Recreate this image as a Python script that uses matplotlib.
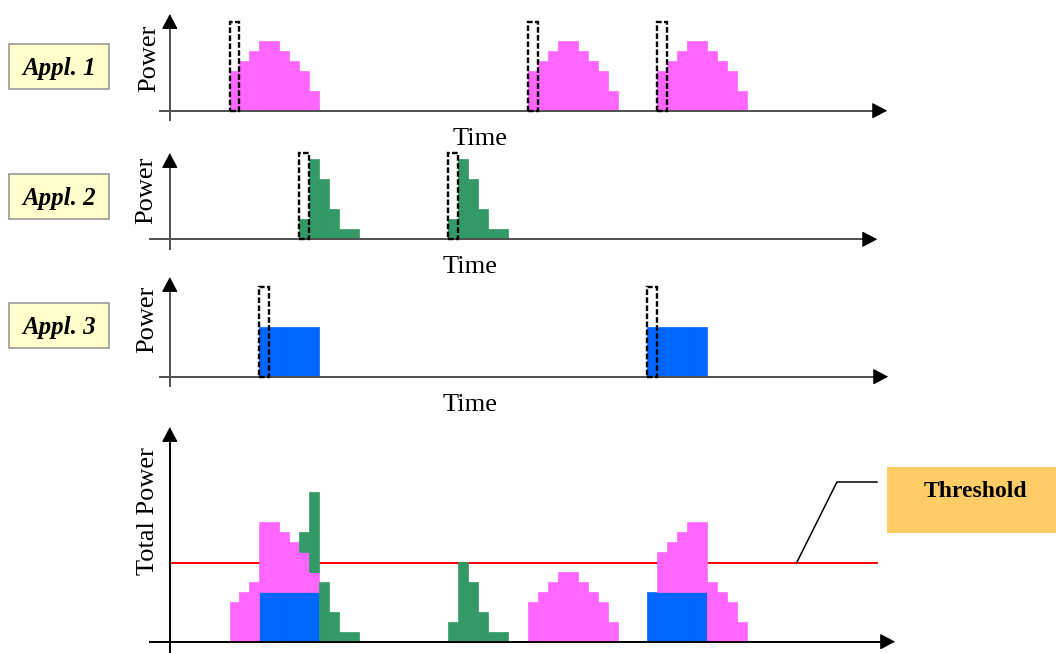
import matplotlib
matplotlib.use("Agg")
import matplotlib.pyplot as plt
from matplotlib.patches import Rectangle
import numpy as np

# ---------------- data (time in slots, power in units) ----------------
appl1_profile = [4, 5, 6, 7, 7, 6, 5, 4, 2]
appl1_starts = [6, 36, 49]
appl2_profile = [2, 8, 6, 3, 1, 1]
appl2_starts = [13, 28]
appl3_profile = [5, 5, 5, 5, 5, 5]
appl3_starts = [9, 48]
threshold = 7.9
app_labels = ["Appl. 1", "Appl. 2", "Appl. 3"]
n_slots = 72

PINK = "#FF66FF"
GREEN = "#339966"
BLUE = "#0066FF"
AXC = "#505050"
SERIF = ["Liberation Serif", "DejaVu Serif"]

def series(profile, starts):
    s = np.zeros(n_slots)
    for st in starts:
        s[st:st + len(profile)] = profile
    return s

p1 = series(appl1_profile, appl1_starts)
p2 = series(appl2_profile, appl2_starts)
p3 = series(appl3_profile, appl3_starts)
t = np.arange(n_slots)

# ---------------- figure ----------------
FW, FH = 1056, 653
fig = plt.figure(figsize=(FW / 100, FH / 100), dpi=100)

X0, W, UY = 169.8, 9.95, 10.0

def panel(top, bottom, base):
    ax = fig.add_axes([0, 1 - bottom / FH, 1, (bottom - top) / FH])
    ax.set_xlim(-X0 / W, (FW - X0) / W)
    ax.set_ylim((base - bottom) / UY, (base - top) / UY)
    ax.axis("off")
    ax.patch.set_visible(False)
    return ax

def axes_arrows(ax, xstart, xtip, ybot, ytip, col=AXC):
    hx, hy = 1.3, 1.3
    ax.plot([xstart, xtip - hx], [0, 0], color=col, lw=1.4, solid_capstyle="butt", clip_on=False, zorder=3)
    ax.plot([0, 0], [ybot, ytip - hy], color=col, lw=1.4, solid_capstyle="butt", clip_on=False, zorder=3)
    style = "-|>,head_length=0.95,head_width=0.5"
    ax.annotate("", xy=(xtip, 0), xytext=(xtip - hx, 0),
                arrowprops=dict(arrowstyle=style, color="black", lw=0.8, shrinkA=0, shrinkB=0, mutation_scale=10),
                annotation_clip=False)
    ax.annotate("", xy=(0, ytip), xytext=(0, ytip - hy),
                arrowprops=dict(arrowstyle=style, color="black", lw=0.8, shrinkA=0, shrinkB=0, mutation_scale=10),
                annotation_clip=False)

def bars(ax, vals, color, bottom=None):
    m = vals > 0
    b = 0 if bottom is None else bottom[m]
    ax.bar(t[m], vals[m], width=1, align="edge", bottom=b, color=color,
           edgecolor=color, linewidth=0.5, zorder=2)

def markers(ax, starts, h):
    for st in starts:
        ax.add_patch(Rectangle((st, 0), 1, h, fill=False, ec="black", lw=1.7,
                               ls=(0, (2.4, 1.0)), zorder=4, clip_on=False))

# Panel 1
ax1 = panel(0, 130, 110.7)
bars(ax1, p1, PINK)
markers(ax1, appl1_starts, 8.87)
axes_arrows(ax1, -1.09, 72.1, -1.03, 9.67)

# Panel 2
ax2 = panel(140, 260, 239.3)
bars(ax2, p2, GREEN)
markers(ax2, appl2_starts, 8.63)
axes_arrows(ax2, -2.09, 71.1, -1.07, 8.63)

# Panel 3
ax3 = panel(270, 395, 376.7)
bars(ax3, p3, BLUE)
markers(ax3, appl3_starts, 8.97)
axes_arrows(ax3, -1.09, 72.2, -1.03, 9.97)

# Panel 4 (total)
ax4 = panel(420, 653, 641.7)
ax4.plot([0, 71.1], [threshold, threshold], color="#FF0000", lw=1.4, zorder=1)
bars(ax4, p3, BLUE)
bars(ax4, p1, PINK, bottom=p3)
bars(ax4, p2, GREEN, bottom=p3 + p1)
axes_arrows(ax4, -2.09, 72.9, -1.3, 21.47, col="black")
ax4.plot([63.0, 67.05, 71.07], [threshold, 15.97, 15.97], color="black", lw=1.1, zorder=1)

# ---------------- overlay (pixel coords) for labels ----------------
ov = fig.add_axes([0, 0, 1, 1])
ov.set_xlim(0, FW)
ov.set_ylim(FH, 0)
ov.axis("off")
ov.patch.set_visible(False)

box_tops = [44, 174, 303]
for lab, top in zip(app_labels, box_tops):
    ov.add_patch(Rectangle((9, top), 100, 45, fc="#FFFFCC", ec="#9A9A9A", lw=1.2))
    ov.text(59, top + 31, lab, ha="center", va="baseline", family=SERIF,
            fontweight="bold", fontstyle="italic", fontsize=18)

for (x, y) in [(149, 58.5), (146, 190), (147, 319)]:
    ov.text(x, y, "Power", rotation=90, ha="center", va="center", family=SERIF, fontsize=19)
ov.text(148, 511, "Total Power", rotation=90, ha="center", va="center", family=SERIF, fontsize=19)

for (x, y) in [(480, 145), (470, 273), (470, 411)]:
    ov.text(x, y, "Time", ha="center", va="baseline", family=SERIF, fontsize=19)

ov.add_patch(Rectangle((887, 467), 180, 66, fc="#FFCC66", ec="none"))
ov.text(976, 497, "Threshold", ha="center", va="baseline", family=SERIF,
        fontweight="bold", fontsize=17)

fig.savefig("out.png", dpi=100)
